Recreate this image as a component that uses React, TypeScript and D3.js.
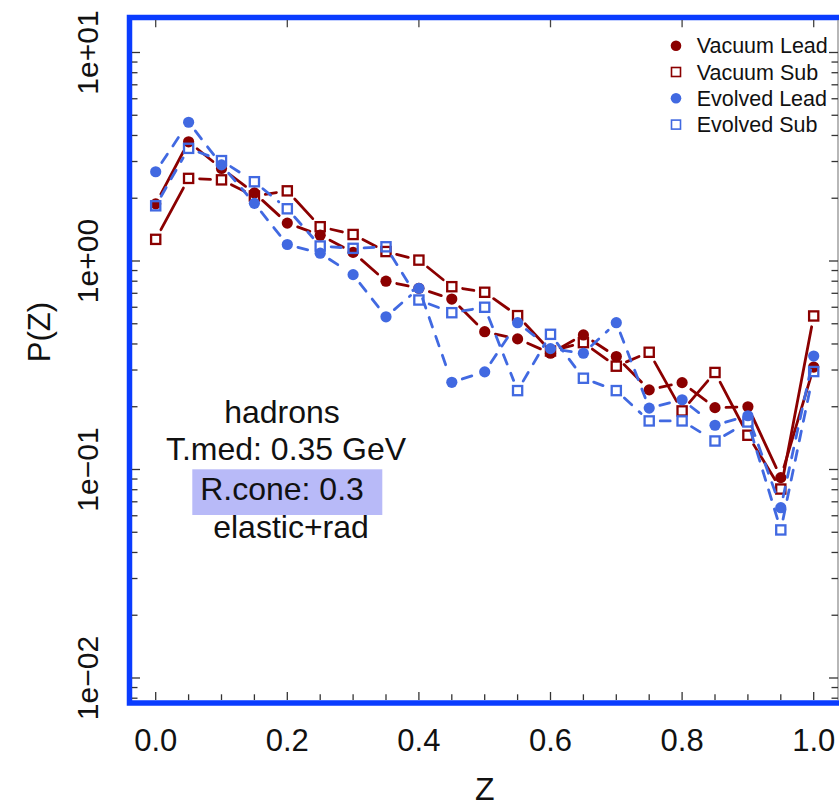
import React from "react";
import * as d3 from "d3";

const zValues = [0, 0.05, 0.1, 0.15, 0.2, 0.25, 0.3, 0.35, 0.4, 0.45, 0.5, 0.55, 0.6, 0.65, 0.7, 0.75, 0.8, 0.85, 0.9, 0.95, 1.0];
const vacuumLead = [1.88, 3.73, 2.78, 2.12, 1.52, 1.33, 1.10, 0.80, 0.74, 0.657, 0.458, 0.423, 0.361, 0.442, 0.348, 0.241, 0.261, 0.198, 0.2, 0.0914, 0.31];
const vacuumSub = [1.27, 2.49, 2.45, 2.05, 2.17, 1.46, 1.34, 1.11, 1.01, 0.753, 0.708, 0.547, 0.37, 0.406, 0.313, 0.365, 0.191, 0.292, 0.146, 0.0806, 0.545];
const evolvedLead = [2.68, 4.63, 2.89, 1.89, 1.20, 1.09, 0.86, 0.54, 0.74, 0.262, 0.294, 0.506, 0.38, 0.361, 0.506, 0.197, 0.216, 0.163, 0.181, 0.0656, 0.35];
const evolvedSub = [1.84, 3.47, 3.03, 2.40, 1.78, 1.18, 1.15, 1.17, 0.65, 0.565, 0.60, 0.239, 0.445, 0.274, 0.239, 0.171, 0.171, 0.137, 0.169, 0.0513, 0.295];

const xTickValues = [0, 0.2, 0.4, 0.6, 0.8, 1.0];
const xTickLabels = ["0.0", "0.2", "0.4", "0.6", "0.8", "1.0"];
const yTickValues = [10, 1, 0.1, 0.01];
const yTickLabels = ["1e+01", "1e+00", "1e\u221201", "1e\u221202"];
const legendLabels = ["Vacuum Lead", "Vacuum Sub", "Evolved Lead", "Evolved Sub"];
const annotation = ["hadrons", "T.med: 0.35 GeV", "R.cone: 0.3", "elastic+rad"];

const DARKRED = "#8b0000";
const BLUE = "#4169e1";
const FRAME = "#0a3cff";
const FONT = "'Liberation Sans', Arial, Helvetica, sans-serif";

const series = [
  { name: legendLabels[0], values: vacuumLead, color: DARKRED, shape: "circle", dash: null },
  { name: legendLabels[1], values: vacuumSub, color: DARKRED, shape: "square", dash: null },
  { name: legendLabels[2], values: evolvedLead, color: BLUE, shape: "circle", dash: "10,10" },
  { name: legendLabels[3], values: evolvedSub, color: BLUE, shape: "square", dash: "10,10" },
];

const x = d3.scaleLinear().domain([0, 1]).range([155.7, 813.7]);
const y = d3.scaleLog().domain([0.01, 10]).range([678, 52.5]);

const GAP = 11;

function segments(values: number[]) {
  const out: { x1: number; y1: number; x2: number; y2: number }[] = [];
  for (let i = 0; i < values.length - 1; i++) {
    const ax = x(zValues[i]);
    const ay = y(values[i]);
    const bx = x(zValues[i + 1]);
    const by = y(values[i + 1]);
    const dx = bx - ax;
    const dy = by - ay;
    const len = Math.sqrt(dx * dx + dy * dy);
    if (len <= 2 * GAP) continue;
    const ux = dx / len;
    const uy = dy / len;
    out.push({ x1: ax + ux * GAP, y1: ay + uy * GAP, x2: bx - ux * GAP, y2: by - uy * GAP });
  }
  return out;
}

export default function App() {
  const xMinor = d3.range(0, 21).map((i) => i / 20);
  const yMinor: number[] = [];
  [0.001, 0.01, 0.1, 1, 10].forEach((d) => {
    for (let k = 1; k <= 9; k++) yMinor.push(d * k);
  });
  const yMinorVis = yMinor.filter((v) => y(v) > 19 && y(v) < 701);

  return (
    <svg width={839} height={806} style={{ position: "absolute", left: 0, top: 0, background: "#fff" }} fontFamily={FONT}>
      {/* frame */}
      <rect x={129.5} y={17.5} width={730} height={685.5} fill="none" stroke={FRAME} strokeWidth={5.5} />
      <line x1={838} x2={838} y1={20} y2={700} stroke="#888" strokeWidth={1.2} />

      {/* bottom ticks */}
      {xMinor.map((v, i) => {
        const major = Math.abs(v * 5 - Math.round(v * 5)) < 1e-6;
        return <line key={"bx" + i} x1={x(v)} x2={x(v)} y1={700} y2={major ? 692 : 694.3} stroke="#333" strokeWidth={1.3} />;
      })}
      {/* top ticks */}
      {xTickValues.map((v, i) => (
        <line key={"tx" + i} x1={x(v)} x2={x(v)} y1={20} y2={27.3} stroke="#444" strokeWidth={1.3} />
      ))}
      {/* left & right ticks */}
      {yMinorVis.map((v, i) => {
        const major = yTickValues.some((t) => Math.abs(t - v) / t < 1e-6);
        return (
          <g key={"ly" + i}>
            <line x1={132} x2={major ? 140 : 137.5} y1={y(v)} y2={y(v)} stroke="#333" strokeWidth={1.3} />
            <line x1={838} x2={major ? 829 : 831.5} y1={y(v)} y2={y(v)} stroke="#333" strokeWidth={1.3} />
          </g>
        );
      })}

      {/* x tick labels */}
      {xTickValues.map((v, i) => (
        <text key={"xl" + i} x={x(v)} y={751} textAnchor="middle" fontSize={31} fill="#111">
          {xTickLabels[i]}
        </text>
      ))}
      {/* y tick labels */}
      {yTickValues.map((v, i) => (
        <text key={"yl" + i} transform={`translate(98,${y(v)}) rotate(-90)`} textAnchor="middle" fontSize={30} fill="#111">
          {yTickLabels[i]}
        </text>
      ))}
      {/* axis titles */}
      <text x={x(0.5)} y={800} textAnchor="middle" fontSize={32} fill="#111">Z</text>
      <text transform={`translate(50,332) rotate(-90)`} textAnchor="middle" fontSize={31} fill="#111">P(Z)</text>

      {/* annotation */}
      <rect x={192.3} y={469.3} width={190} height={45.7} fill="#b8baf8" />
      <text x={282} y={423} textAnchor="middle" fontSize={32} fill="#111">{annotation[0]}</text>
      <text x={286} y={460} textAnchor="middle" fontSize={32} fill="#111">{annotation[1]}</text>
      <text x={282} y={500} textAnchor="middle" fontSize={32} fill="#111">{annotation[2]}</text>
      <text x={291} y={538} textAnchor="middle" fontSize={32} fill="#111">{annotation[3]}</text>

      {/* series */}
      {series.map((s, si) => (
        <g key={"s" + si}>
          {segments(s.values).map((seg, i) => (
            <line
              key={i}
              x1={seg.x1}
              y1={seg.y1}
              x2={seg.x2}
              y2={seg.y2}
              stroke={s.color}
              strokeWidth={2.8}
              strokeDasharray={s.dash || undefined}
              strokeLinecap="round"
            />
          ))}
          {s.values.map((v, i) =>
            s.shape === "circle" ? (
              <circle key={"p" + i} cx={x(zValues[i])} cy={y(v)} r={5.6} fill={s.color} />
            ) : (
              <rect key={"p" + i} x={x(zValues[i]) - 4.6} y={y(v) - 4.6} width={9.2} height={9.2} fill="none" stroke={s.color} strokeWidth={2.3} />
            )
          )}
        </g>
      ))}

      {/* legend */}
      {series.map((s, i) => {
        const cy = 45.7 + i * 26.3;
        return (
          <g key={"lg" + i}>
            {s.shape === "circle" ? (
              <circle cx={676} cy={cy} r={5.3} fill={s.color} />
            ) : (
              <rect x={671.5} y={cy - 4.5} width={9} height={9} fill="none" stroke={s.color} strokeWidth={1.6} />
            )}
            <text x={696.7} y={cy + 7.7} fontSize={21.5} fill="#111">{s.name}</text>
          </g>
        );
      })}
    </svg>
  );
}
